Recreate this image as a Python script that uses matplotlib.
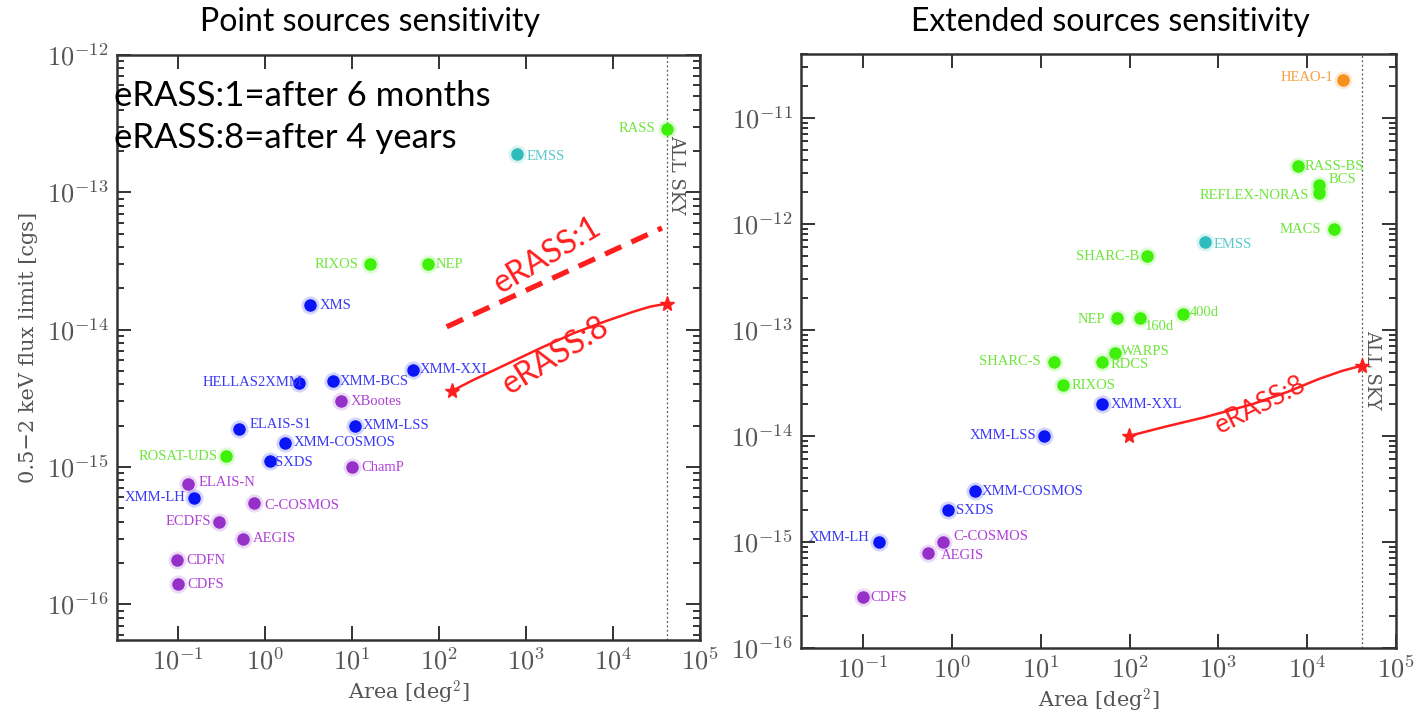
import numpy as np
import matplotlib
matplotlib.use("Agg")
import matplotlib.pyplot as plt
from matplotlib.ticker import LogLocator, NullLocator, NullFormatter, FuncFormatter

plt.rcParams['mathtext.fontset'] = 'cm'

# ---- point sources (left) ----
pt_names = ["RASS", "EMSS", "RIXOS", "NEP", "XMS", "XMM-XXL", "HELLAS2XMM", "XMM-BCS",
            "XBootes", "ELAIS-S1", "XMM-LSS", "XMM-COSMOS", "ROSAT-UDS", "SXDS", "ChamP",
            "ELAIS-N", "XMM-LH", "C-COSMOS", "ECDFS", "AEGIS", "CDFN", "CDFS"]
pt_area = [41700, 790, 16, 74, 3.3, 50, 2.5, 6.0,
           7.4, 0.51, 11, 1.7, 0.36, 1.14, 10,
           0.13, 0.153, 0.755, 0.30, 0.557, 0.098, 0.10]
pt_flux = [2.9e-13, 1.9e-13, 3.0e-14, 3.0e-14, 1.5e-14, 5.1e-15, 4.1e-15, 4.2e-15,
           3.0e-15, 1.9e-15, 2.0e-15, 1.5e-15, 1.2e-15, 1.1e-15, 1.0e-15,
           7.5e-16, 5.9e-16, 5.5e-16, 4.0e-16, 3.0e-16, 2.1e-16, 1.4e-16]
pt_kind = ["green", "cyan", "green", "green", "blue", "blue", "blue", "blue",
           "purple", "blue", "blue", "blue", "green", "blue", "purple",
           "purple", "blue", "purple", "purple", "purple", "purple", "purple"]

# eRASS curves, left panel
e1_area = [123, 36600]
e1_flux = [1.05e-14, 5.5e-14]
e8p_area = [140, 248, 601, 1450, 3500, 8470, 17100, 26600, 42100]
e8p_flux = [3.57e-15, 4.30e-15, 5.61e-15, 7.31e-15, 9.4e-15, 1.16e-14, 1.35e-14,
            1.47e-14, 1.55e-14]

# ---- extended sources (right) ----
ex_names = ["HEAO-1", "RASS-BS", "BCS", "REFLEX-NORAS", "MACS", "EMSS", "SHARC-B", "NEP",
            "160d", "400d", "WARPS", "SHARC-S", "RDCS", "RIXOS", "XMM-XXL", "XMM-LSS",
            "XMM-COSMOS", "SXDS", "XMM-LH", "C-COSMOS", "AEGIS", "CDFS"]
ex_area = [25400, 7900, 13500, 13500, 20000, 708, 158, 73,
           130, 403, 69, 14, 49, 18, 49, 11,
           1.8, 0.90, 0.151, 0.80, 0.54, 0.10]
ex_flux = [2.25e-11, 3.5e-12, 2.33e-12, 1.96e-12, 8.9e-13, 6.8e-13, 4.95e-13, 1.29e-13,
           1.29e-13, 1.42e-13, 6.1e-14, 5.0e-14, 5.0e-14, 3.0e-14, 2.0e-14, 1.0e-14,
           3.0e-15, 2.0e-15, 1.0e-15, 1.0e-15, 7.9e-16, 3.0e-16]
ex_kind = ["orange", "green", "green", "green", "green", "cyan", "green", "green",
           "green", "green", "green", "green", "green", "green", "blue", "blue",
           "blue", "blue", "blue", "purple", "purple", "purple"]

e8x_area = [99, 250, 700, 2455, 6000, 13000, 24550, 41200]
e8x_flux = [1.0e-14, 1.22e-14, 1.5e-14, 2.0e-14, 2.6e-14, 3.4e-14, 4.1e-14, 4.6e-14]

# label placement (offset in points, horizontal alignment)
pt_lab = {"RASS": (-8, 0, 'right'), "EMSS": (7, -2, 'left'), "RIXOS": (-8, 0, 'right'),
          "NEP": (6, 0, 'left'), "XMS": (7, 0, 'left'), "XMM-XXL": (5, 0, 'left'),
          "HELLAS2XMM": (2, 0, 'right'), "XMM-BCS": (5, 0, 'left'), "XBootes": (7, 0, 'left'),
          "ELAIS-S1": (7, 3, 'left'), "XMM-LSS": (5, 0, 'left'), "XMM-COSMOS": (6, 0, 'left'),
          "ROSAT-UDS": (-6, 0, 'right'), "SXDS": (4, -1, 'left'), "ChamP": (7, 0, 'left'),
          "ELAIS-N": (8, 1, 'left'), "XMM-LH": (-6, 1, 'right'), "C-COSMOS": (7, -2, 'left'),
          "ECDFS": (-6, 0, 'right'), "AEGIS": (7, 0, 'left'), "CDFN": (7, 0, 'left'),
          "CDFS": (7, 0, 'left')}
ex_lab = {"HEAO-1": (-7, 2, 'right'), "RASS-BS": (5, 0, 'left'), "BCS": (7, 4, 'left'),
          "REFLEX-NORAS": (-7, -2, 'right'), "MACS": (-9, 0, 'right'), "EMSS": (6, -2, 'left'),
          "SHARC-B": (-6, 0, 'right'), "NEP": (-9, -1, 'right'), "160d": (4, -6, 'left'),
          "400d": (5, 1, 'left'), "WARPS": (4, 1, 'left'), "SHARC-S": (-9, 0, 'right'),
          "RDCS": (6, -2, 'left'), "RIXOS": (6, 0, 'left'), "XMM-XXL": (6, 0, 'left'),
          "XMM-LSS": (-6, 0, 'right'), "XMM-COSMOS": (5, 0, 'left'), "SXDS": (6, 0, 'left'),
          "XMM-LH": (-7, 3, 'right'), "C-COSMOS": (7, 4, 'left'), "AEGIS": (9, -2, 'left'),
          "CDFS": (5, 0, 'left')}

dot_col = {"blue": "#0a14f5", "green": "#3ef00a", "purple": "#9530c8",
           "cyan": "#2fbcbc", "orange": "#f5901a"}
txt_col = {"blue": "#3a3af5", "green": "#6ee63c", "purple": "#b040d8",
           "cyan": "#5cc8cc", "orange": "#f5a040"}
red = "#ff1e1e"
grey = "#555555"
serif = "Liberation Serif"
lab_font = "DejaVu Serif"

fig = plt.figure(figsize=(14.16, 7.17), dpi=100)
W, H = 1416, 717
axL = fig.add_axes([117 / W, (H - 640) / H, 583 / W, 585 / H])
axR = fig.add_axes([801 / W, (H - 648) / H, 595 / W, 594 / H])

pow_fmt = FuncFormatter(lambda v, p: r'$10^{%d}$' % int(round(np.log10(v))))


def style_axes(ax, ylim):
    ax.set_xscale('log')
    ax.set_yscale('log')
    ax.set_xlim(0.02, 1e5)
    ax.set_ylim(*ylim)
    ax.xaxis.set_major_locator(LogLocator(base=10, numticks=10))
    ax.xaxis.set_major_formatter(pow_fmt)
    ax.yaxis.set_major_formatter(pow_fmt)
    ax.xaxis.set_minor_locator(NullLocator())
    ax.yaxis.set_minor_locator(LogLocator(base=10, subs=np.arange(2, 10), numticks=20))
    ax.yaxis.set_minor_formatter(NullFormatter())
    ax.tick_params(which='both', direction='in', top=True, right=True,
                   colors='#333333', labelcolor=grey, labelsize=19, width=1.4)
    ax.tick_params(which='major', length=10, pad=6)
    ax.tick_params(which='minor', length=5)
    for s in ax.spines.values():
        s.set_linewidth(1.8)
        s.set_color('#333333')
    ax.set_xlabel("Area [deg$^2$]", family=lab_font, color=grey, fontsize=15, labelpad=3)
    ax.axvline(41253, color='#555555', lw=0.9, ls=(0, (1.5, 2)))


def draw_points(ax, names, area, flux, kind, lab):
    for n, x, y, k in zip(names, area, flux, kind):
        ax.plot(x, y, 'o', ms=13, color=dot_col[k], alpha=0.18, mec='none', zorder=3)
        ax.plot(x, y, 'o', ms=9, color=dot_col[k], mec='none', zorder=4)
        dx, dy, ha = lab[n]
        ax.annotate(n, (x, y), xytext=(dx, dy), textcoords='offset points',
                    ha=ha, va='center', family=serif, fontsize=10.5,
                    color=txt_col[k], zorder=5)


# left panel
style_axes(axL, (5.5e-17, 1e-12))
draw_points(axL, pt_names, pt_area, pt_flux, pt_kind, pt_lab)
axL.plot(e1_area, e1_flux, color=red, lw=3.8, ls=(0, (3.4, 2.1)), zorder=6)
axL.plot(e8p_area, e8p_flux, color=red, lw=1.8, zorder=6)
axL.plot([e8p_area[0], e8p_area[-1]], [e8p_flux[0], e8p_flux[-1]], '*',
         color=red, ms=11, zorder=7)
axL.set_ylabel("0.5\u22122 keV flux limit [cgs]", family=lab_font, color=grey,
               fontsize=15, labelpad=6)
axL.text(-0.005, 0.93, "eRASS:1=after 6 months", transform=axL.transAxes,
         fontsize=25, family="Lato", ha='left', va='center', color='black')
axL.text(-0.005, 0.858, "eRASS:8=after 4 years", transform=axL.transAxes,
         fontsize=25, family="Lato", ha='left', va='center', color='black')
axL.text(1750, 3.45e-14, "eRASS:1", color=red, fontsize=23, family="Lato",
         rotation=31, ha='center', va='center')
axL.text(2200, 6.5e-15, "eRASS:8", color=red, fontsize=23, family="Lato",
         rotation=32, ha='center', va='center')
axL.text(53000, 1.35e-13, "ALL SKY", rotation=-90, color=grey, family=lab_font,
         fontsize=13, ha='center', va='center')

# right panel
style_axes(axR, (1e-16, 4e-11))
draw_points(axR, ex_names, ex_area, ex_flux, ex_kind, ex_lab)
axR.plot(e8x_area, e8x_flux, color=red, lw=1.8, zorder=6)
axR.plot([e8x_area[0], e8x_area[-1]], [e8x_flux[0], e8x_flux[-1]], '*',
         color=red, ms=11, zorder=7)
axR.text(2950, 1.95e-14, "eRASS:8", color=red, fontsize=19, family="Lato",
         rotation=27, ha='center', va='center')
axR.text(53700, 4.2e-14, "ALL SKY", rotation=-90, color=grey, family=lab_font,
         fontsize=13, ha='center', va='center')

fig.text(370 / W, 1 - 22 / H, "Point sources sensitivity", fontsize=23,
         family="Lato", ha='center', va='center')
fig.text(1110 / W, 1 - 22 / H, "Extended sources sensitivity", fontsize=23,
         family="Lato", ha='center', va='center')

fig.savefig("out.png", dpi=100)
